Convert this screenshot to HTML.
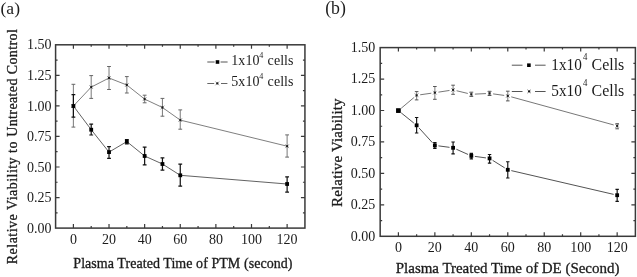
<!DOCTYPE html>
<html><head><meta charset="utf-8"><style>
html,body{margin:0;padding:0;background:#fff;width:637px;height:277px;overflow:hidden}
svg{display:block}
text{font-family:"Liberation Serif",serif}
svg{filter:blur(0.3px)}
.t{stroke:#1c1c1c;stroke-width:0.3px}
</style></head><body>
<svg width="637" height="277" viewBox="0 0 637 277">
<g font-family="Liberation Serif" fill="#1c1c1c">
<text x="0.5" y="13.6" font-size="17.6">(a)</text>
<text x="325.2" y="14.3" font-size="17.8">(b)</text>
<rect x="55.59" y="44.8" width="249.34" height="183.3" fill="none" stroke="#3a3a3a" stroke-width="1.5"/>
<text x="73.4" y="243.6" text-anchor="middle" font-size="14">0</text>
<text x="109.02" y="243.6" text-anchor="middle" font-size="14">20</text>
<text x="144.64" y="243.6" text-anchor="middle" font-size="14">40</text>
<text x="180.26" y="243.6" text-anchor="middle" font-size="14">60</text>
<text x="215.88" y="243.6" text-anchor="middle" font-size="14">80</text>
<text x="251.5" y="243.6" text-anchor="middle" font-size="14">100</text>
<text x="287.12" y="243.6" text-anchor="middle" font-size="14">120</text>
<text x="51.6" y="232.85" text-anchor="end" font-size="14">0.00</text>
<text x="51.6" y="202.3" text-anchor="end" font-size="14">0.25</text>
<text x="51.6" y="171.75" text-anchor="end" font-size="14">0.50</text>
<text x="51.6" y="141.2" text-anchor="end" font-size="14">0.75</text>
<text x="51.6" y="110.65" text-anchor="end" font-size="14">1.00</text>
<text x="51.6" y="80.1" text-anchor="end" font-size="14">1.25</text>
<text x="51.6" y="48.75" text-anchor="end" font-size="14">1.50</text>
<path d="M73.4 228.1V224.1M73.4 44.8V48.8M91.21 228.1V226.1M91.21 44.8V46.8M109.02 228.1V224.1M109.02 44.8V48.8M126.83 228.1V226.1M126.83 44.8V46.8M144.64 228.1V224.1M144.64 44.8V48.8M162.45 228.1V226.1M162.45 44.8V46.8M180.26 228.1V224.1M180.26 44.8V48.8M198.07 228.1V226.1M198.07 44.8V46.8M215.88 228.1V224.1M215.88 44.8V48.8M233.69 228.1V226.1M233.69 44.8V46.8M251.5 228.1V224.1M251.5 44.8V48.8M269.31 228.1V226.1M269.31 44.8V46.8M287.12 228.1V224.1M287.12 44.8V48.8M55.59 212.82H57.59M304.93 212.82H302.93M55.59 197.55H59.59M304.93 197.55H300.93M55.59 182.27H57.59M304.93 182.27H302.93M55.59 167H59.59M304.93 167H300.93M55.59 151.72H57.59M304.93 151.72H302.93M55.59 136.45H59.59M304.93 136.45H300.93M55.59 121.17H57.59M304.93 121.17H302.93M55.59 105.9H59.59M304.93 105.9H300.93M55.59 90.62H57.59M304.93 90.62H302.93M55.59 75.35H59.59M304.93 75.35H300.93M55.59 60.07H57.59M304.93 60.07H302.93" stroke="#3a3a3a" stroke-width="1.2" fill="none"/>
<rect x="380.17" y="47.6" width="255.22" height="188.7" fill="none" stroke="#3a3a3a" stroke-width="1.5"/>
<text x="398.4" y="252" text-anchor="middle" font-size="14">0</text>
<text x="434.86" y="252" text-anchor="middle" font-size="14">20</text>
<text x="471.32" y="252" text-anchor="middle" font-size="14">40</text>
<text x="507.78" y="252" text-anchor="middle" font-size="14">60</text>
<text x="544.24" y="252" text-anchor="middle" font-size="14">80</text>
<text x="580.7" y="252" text-anchor="middle" font-size="14">100</text>
<text x="617.16" y="252" text-anchor="middle" font-size="14">120</text>
<text x="375.2" y="240.65" text-anchor="end" font-size="14">0.00</text>
<text x="375.2" y="209.2" text-anchor="end" font-size="14">0.25</text>
<text x="375.2" y="177.75" text-anchor="end" font-size="14">0.50</text>
<text x="375.2" y="146.3" text-anchor="end" font-size="14">0.75</text>
<text x="375.2" y="114.85" text-anchor="end" font-size="14">1.00</text>
<text x="375.2" y="83.4" text-anchor="end" font-size="14">1.25</text>
<text x="375.2" y="51.95" text-anchor="end" font-size="14">1.50</text>
<path d="M398.4 236.3V232.3M398.4 47.6V51.6M416.63 236.3V234.3M416.63 47.6V49.6M434.86 236.3V232.3M434.86 47.6V51.6M453.09 236.3V234.3M453.09 47.6V49.6M471.32 236.3V232.3M471.32 47.6V51.6M489.55 236.3V234.3M489.55 47.6V49.6M507.78 236.3V232.3M507.78 47.6V51.6M526.01 236.3V234.3M526.01 47.6V49.6M544.24 236.3V232.3M544.24 47.6V51.6M562.47 236.3V234.3M562.47 47.6V49.6M580.7 236.3V232.3M580.7 47.6V51.6M598.93 236.3V234.3M598.93 47.6V49.6M617.16 236.3V232.3M617.16 47.6V51.6M380.17 220.58H382.17M635.39 220.58H633.39M380.17 204.85H384.17M635.39 204.85H631.39M380.17 189.12H382.17M635.39 189.12H633.39M380.17 173.4H384.17M635.39 173.4H631.39M380.17 157.68H382.17M635.39 157.68H633.39M380.17 141.95H384.17M635.39 141.95H631.39M380.17 126.23H382.17M635.39 126.23H633.39M380.17 110.5H384.17M635.39 110.5H631.39M380.17 94.78H382.17M635.39 94.78H633.39M380.17 79.05H384.17M635.39 79.05H631.39M380.17 63.33H382.17M635.39 63.33H633.39" stroke="#3a3a3a" stroke-width="1.2" fill="none"/>
<text class="t" transform="translate(17,264.2) rotate(-90)" font-size="14" textLength="122.6">Relative Viability to</text>
<text class="t" transform="translate(17,136.8) rotate(-90)" font-size="14" textLength="107.6">Untreated Control</text>
<text class="t" x="73.3" y="268.3" font-size="14" textLength="219.2">Plasma Treated Time of PTM (second)</text>
<text class="t" transform="translate(341.5,207) rotate(-90)" font-size="15" textLength="108.6">Relative Viability</text>
<text class="t" x="395.8" y="273.4" font-size="15" textLength="223.6">Plasma Treated Time of DE (Second)</text>
<path d="M73.4 106L91.21 87.1L109.02 78L126.83 85L144.64 99.1L162.45 107.5L180.26 120.1L287.12 146.2" stroke="#707070" stroke-width="0.9" fill="none"/>
<path d="M73.4 106L91.21 129.7L109.02 152.1L126.83 141.6L144.64 156L162.45 164L180.26 175.3L287.12 184" stroke="#505050" stroke-width="0.9" fill="none"/>
<path d="M73.4 84.3V127.1" stroke="#858585" stroke-width="1.1" fill="none"/>
<path d="M71.5 84.3H75.3M71.5 127.1H75.3" stroke="#666" stroke-width="1" fill="none"/>
<path d="M71.5 104.1L75.3 107.9M75.3 104.1L71.5 107.9" stroke="#888" stroke-width="0.8"/>
<circle cx="73.4" cy="106" r="1.15" fill="#1a1a1a"/>
<path d="M91.21 75.6V98.4" stroke="#858585" stroke-width="1.1" fill="none"/>
<path d="M89.31 75.6H93.11M89.31 98.4H93.11" stroke="#666" stroke-width="1" fill="none"/>
<path d="M89.31 85.2L93.11 89M93.11 85.2L89.31 89" stroke="#888" stroke-width="0.8"/>
<circle cx="91.21" cy="87.1" r="1.15" fill="#1a1a1a"/>
<path d="M109.02 66.5V89.5" stroke="#858585" stroke-width="1.1" fill="none"/>
<path d="M107.12 66.5H110.92M107.12 89.5H110.92" stroke="#666" stroke-width="1" fill="none"/>
<path d="M107.12 76.1L110.92 79.9M110.92 76.1L107.12 79.9" stroke="#888" stroke-width="0.8"/>
<circle cx="109.02" cy="78" r="1.15" fill="#1a1a1a"/>
<path d="M126.83 76.6V93" stroke="#858585" stroke-width="1.1" fill="none"/>
<path d="M124.93 76.6H128.73M124.93 93H128.73" stroke="#666" stroke-width="1" fill="none"/>
<path d="M124.93 83.1L128.73 86.9M128.73 83.1L124.93 86.9" stroke="#888" stroke-width="0.8"/>
<circle cx="126.83" cy="85" r="1.15" fill="#1a1a1a"/>
<path d="M144.64 95.2V102.8" stroke="#858585" stroke-width="1.1" fill="none"/>
<path d="M142.74 95.2H146.54M142.74 102.8H146.54" stroke="#666" stroke-width="1" fill="none"/>
<path d="M142.74 97.2L146.54 101M146.54 97.2L142.74 101" stroke="#888" stroke-width="0.8"/>
<circle cx="144.64" cy="99.1" r="1.15" fill="#1a1a1a"/>
<path d="M162.45 98.4V116.2" stroke="#858585" stroke-width="1.1" fill="none"/>
<path d="M160.55 98.4H164.35M160.55 116.2H164.35" stroke="#666" stroke-width="1" fill="none"/>
<path d="M160.55 105.6L164.35 109.4M164.35 105.6L160.55 109.4" stroke="#888" stroke-width="0.8"/>
<circle cx="162.45" cy="107.5" r="1.15" fill="#1a1a1a"/>
<path d="M180.26 109.9V129.2" stroke="#858585" stroke-width="1.1" fill="none"/>
<path d="M178.36 109.9H182.16M178.36 129.2H182.16" stroke="#666" stroke-width="1" fill="none"/>
<path d="M178.36 118.2L182.16 122M182.16 118.2L178.36 122" stroke="#888" stroke-width="0.8"/>
<circle cx="180.26" cy="120.1" r="1.15" fill="#1a1a1a"/>
<path d="M287.12 134.9V157.1" stroke="#858585" stroke-width="1.1" fill="none"/>
<path d="M285.22 134.9H289.02M285.22 157.1H289.02" stroke="#666" stroke-width="1" fill="none"/>
<path d="M285.22 144.3L289.02 148.1M289.02 144.3L285.22 148.1" stroke="#888" stroke-width="0.8"/>
<circle cx="287.12" cy="146.2" r="1.15" fill="#1a1a1a"/>
<path d="M73.4 94.7V117.2M71.5 94.7H75.3M71.5 117.2H75.3" stroke="#111" stroke-width="1.2" fill="none"/>
<rect x="71.5" y="104.1" width="3.8" height="3.8" fill="#000"/>
<path d="M91.21 124.1V135M89.31 124.1H93.11M89.31 135H93.11" stroke="#111" stroke-width="1.2" fill="none"/>
<rect x="89.31" y="127.8" width="3.8" height="3.8" fill="#000"/>
<path d="M109.02 146.7V158.4M107.12 146.7H110.92M107.12 158.4H110.92" stroke="#111" stroke-width="1.2" fill="none"/>
<rect x="107.12" y="150.2" width="3.8" height="3.8" fill="#000"/>
<path d="M126.83 139.5V143.9M124.93 139.5H128.73M124.93 143.9H128.73" stroke="#111" stroke-width="1.2" fill="none"/>
<rect x="124.93" y="139.7" width="3.8" height="3.8" fill="#000"/>
<path d="M144.64 147.1V164.9M142.74 147.1H146.54M142.74 164.9H146.54" stroke="#111" stroke-width="1.2" fill="none"/>
<rect x="142.74" y="154.1" width="3.8" height="3.8" fill="#000"/>
<path d="M162.45 157.8V170.1M160.55 157.8H164.35M160.55 170.1H164.35" stroke="#111" stroke-width="1.2" fill="none"/>
<rect x="160.55" y="162.1" width="3.8" height="3.8" fill="#000"/>
<path d="M180.26 164.1V186.1M178.36 164.1H182.16M178.36 186.1H182.16" stroke="#111" stroke-width="1.2" fill="none"/>
<rect x="178.36" y="173.4" width="3.8" height="3.8" fill="#000"/>
<path d="M287.12 176.8V192.1M285.22 176.8H289.02M285.22 192.1H289.02" stroke="#111" stroke-width="1.2" fill="none"/>
<rect x="285.22" y="182.1" width="3.8" height="3.8" fill="#000"/>
<path d="M401.16 108.29L413.87 97.61M420.19 94.79L431.3 93.21M438.42 92.15L449.53 90.45M456.59 90.74L467.82 93.46M474.92 94.12L485.95 93.58M493.12 93.89L504.21 95.41M511.25 96.85L613.69 124.95" stroke="#686868" stroke-width="0.9" fill="none"/>
<path d="M401.2 112.86L413.83 123.04M419.05 127.97L432.44 142.73M438.43 145.87L449.52 147.33M456.38 149.26L468.03 154.44M474.89 156.39L485.98 157.91M492.6 160.31L504.73 167.89M511.29 170.61L613.65 194.39" stroke="#404040" stroke-width="0.9" fill="none"/>
<path d="M396.5 108.7L400.3 112.5M400.3 108.7L396.5 112.5" stroke="#888" stroke-width="0.8"/>
<circle cx="398.4" cy="110.6" r="1.15" fill="#1a1a1a"/>
<path d="M416.63 91.6V99.9" stroke="#888" stroke-width="1.1" fill="none"/>
<path d="M414.83 91.6H418.43M414.83 99.9H418.43" stroke="#555" stroke-width="1" fill="none"/>
<path d="M414.73 93.4L418.53 97.2M418.53 93.4L414.73 97.2" stroke="#888" stroke-width="0.8"/>
<circle cx="416.63" cy="95.3" r="1.15" fill="#1a1a1a"/>
<path d="M434.86 86.5V99.3" stroke="#888" stroke-width="1.1" fill="none"/>
<path d="M433.06 86.5H436.66M433.06 99.3H436.66" stroke="#555" stroke-width="1" fill="none"/>
<path d="M432.96 90.8L436.76 94.6M436.76 90.8L432.96 94.6" stroke="#888" stroke-width="0.8"/>
<circle cx="434.86" cy="92.7" r="1.15" fill="#1a1a1a"/>
<path d="M453.09 85.2V94.3" stroke="#888" stroke-width="1.1" fill="none"/>
<path d="M451.29 85.2H454.89M451.29 94.3H454.89" stroke="#555" stroke-width="1" fill="none"/>
<path d="M451.19 88L454.99 91.8M454.99 88L451.19 91.8" stroke="#888" stroke-width="0.8"/>
<circle cx="453.09" cy="89.9" r="1.15" fill="#1a1a1a"/>
<path d="M471.32 92.2V96.4" stroke="#888" stroke-width="1.1" fill="none"/>
<path d="M469.52 92.2H473.12M469.52 96.4H473.12" stroke="#555" stroke-width="1" fill="none"/>
<path d="M469.42 92.4L473.22 96.2M473.22 92.4L469.42 96.2" stroke="#888" stroke-width="0.8"/>
<circle cx="471.32" cy="94.3" r="1.15" fill="#1a1a1a"/>
<path d="M489.55 91.3V95.5" stroke="#888" stroke-width="1.1" fill="none"/>
<path d="M487.75 91.3H491.35M487.75 95.5H491.35" stroke="#555" stroke-width="1" fill="none"/>
<path d="M487.65 91.5L491.45 95.3M491.45 91.5L487.65 95.3" stroke="#888" stroke-width="0.8"/>
<circle cx="489.55" cy="93.4" r="1.15" fill="#1a1a1a"/>
<path d="M507.78 91.2V100.9" stroke="#888" stroke-width="1.1" fill="none"/>
<path d="M505.98 91.2H509.58M505.98 100.9H509.58" stroke="#555" stroke-width="1" fill="none"/>
<path d="M505.88 94L509.68 97.8M509.68 94L505.88 97.8" stroke="#888" stroke-width="0.8"/>
<circle cx="507.78" cy="95.9" r="1.15" fill="#1a1a1a"/>
<path d="M617.16 123.7V128.8" stroke="#888" stroke-width="1.1" fill="none"/>
<path d="M615.36 123.7H618.96M615.36 128.8H618.96" stroke="#555" stroke-width="1" fill="none"/>
<path d="M615.26 124L619.06 127.8M619.06 124L615.26 127.8" stroke="#888" stroke-width="0.8"/>
<circle cx="617.16" cy="125.9" r="1.15" fill="#1a1a1a"/>
<rect x="396.5" y="108.7" width="3.8" height="3.8" fill="#000"/>
<path d="M416.63 117.5V133M414.93 117.5H418.33M414.93 133H418.33" stroke="#111" stroke-width="1.15" fill="none"/>
<rect x="414.73" y="123.4" width="3.8" height="3.8" fill="#000"/>
<path d="M434.86 142.6V148.3M433.16 142.6H436.56M433.16 148.3H436.56" stroke="#111" stroke-width="1.15" fill="none"/>
<rect x="432.96" y="143.5" width="3.8" height="3.8" fill="#000"/>
<path d="M453.09 142V153.8M451.39 142H454.79M451.39 153.8H454.79" stroke="#111" stroke-width="1.15" fill="none"/>
<rect x="451.19" y="145.9" width="3.8" height="3.8" fill="#000"/>
<path d="M471.32 153.4V158.8M469.62 153.4H473.02M469.62 158.8H473.02" stroke="#111" stroke-width="1.15" fill="none"/>
<rect x="469.42" y="154" width="3.8" height="3.8" fill="#000"/>
<path d="M489.55 154.5V163.1M487.85 154.5H491.25M487.85 163.1H491.25" stroke="#111" stroke-width="1.15" fill="none"/>
<rect x="487.65" y="156.5" width="3.8" height="3.8" fill="#000"/>
<path d="M507.78 161.7V178M506.08 161.7H509.48M506.08 178H509.48" stroke="#111" stroke-width="1.15" fill="none"/>
<rect x="505.88" y="167.9" width="3.8" height="3.8" fill="#000"/>
<path d="M617.16 189.4V201.4M615.46 189.4H618.86M615.46 201.4H618.86" stroke="#111" stroke-width="1.15" fill="none"/>
<rect x="615.26" y="193.3" width="3.8" height="3.8" fill="#000"/>
<rect x="396.1" y="108.3" width="4.6" height="4.6" fill="#000"/>
<path d="M207.3 62H214.6M220.6 62H227.6" stroke="#555" stroke-width="1"/>
<rect x="215.7" y="60.2" width="3.6" height="3.6" fill="#000"/>
<path d="M207.3 83.5H214.2M221 83.5H227.4" stroke="#666" stroke-width="1"/>
<path d="M215.4 81.5L219.2 85.3M219.2 81.5L215.4 85.3" stroke="#888" stroke-width="0.8"/>
<circle cx="217.3" cy="83.4" r="1.15" fill="#1a1a1a"/>
<text x="231.3" y="64.8" font-size="14" letter-spacing="0.05">1x10<tspan dx="-0.2" dy="-7.2" font-size="8">4</tspan><tspan dx="0.7" dy="7.2"> cells</tspan></text>
<text x="231.3" y="85.9" font-size="14" letter-spacing="0.05">5x10<tspan dx="-0.2" dy="-7.2" font-size="8">4</tspan><tspan dx="0.7" dy="7.2"> cells</tspan></text>
<path d="M511.8 65.2H522.5M535 65.2H545.6" stroke="#555" stroke-width="1"/>
<rect x="527.1" y="63.4" width="3.6" height="3.6" fill="#000"/>
<path d="M511.8 91.5H522.5M535 91.5H545.6" stroke="#555" stroke-width="1"/>
<path d="M527.2 89.5L531 93.3M531 89.5L527.2 93.3" stroke="#888" stroke-width="0.8"/>
<circle cx="529.1" cy="91.4" r="1.15" fill="#1a1a1a"/>
<text transform="translate(551.3,69.9) scale(0.92,1)" font-size="16.6">1x10</text>
<text transform="translate(583.1,60.2) scale(0.92,1)" font-size="9.6">4</text>
<text transform="translate(591.5,69.9) scale(0.95,1)" font-size="16.8">Cells</text>
<text transform="translate(551.3,95.6) scale(0.92,1)" font-size="16.6">5x10</text>
<text transform="translate(583.1,85.9) scale(0.92,1)" font-size="9.6">4</text>
<text transform="translate(591.5,95.6) scale(0.95,1)" font-size="16.8">Cells</text>
</g></svg>
</body></html>
